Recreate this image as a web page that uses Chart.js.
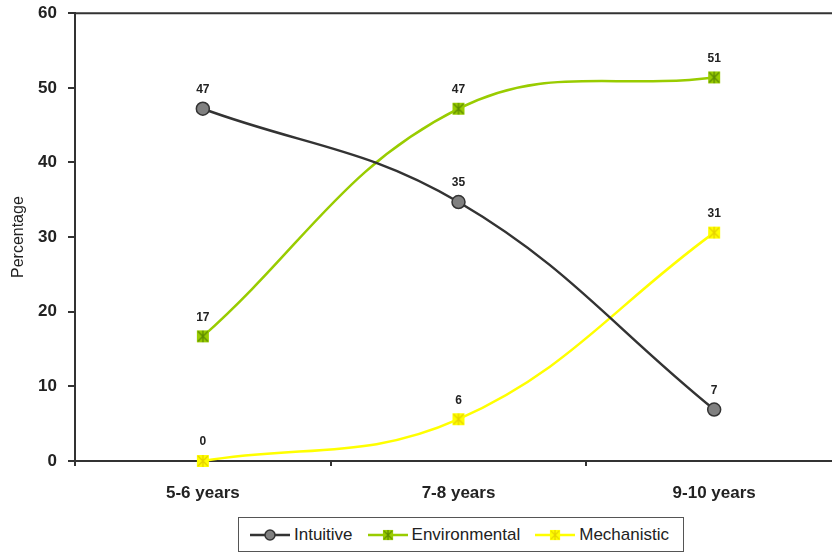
<!DOCTYPE html>
<html>
<head>
<meta charset="utf-8">
<script src="https://cdn.jsdelivr.net/npm/chart.js@4"></script>
<style>
    body { margin: 0; background: #fff; overflow: hidden; width: 832px; height: 555px; position: relative; font-family: "Liberation Sans", Arial, sans-serif; }
    #stockChart { position: absolute; left: 0; top: -8px; }
    .legend { position: absolute; left: 238px; top: 517px; width: 446px; height: 35px; border: 1.5px solid #555; display: flex; align-items: center; justify-content: center; gap: 14px; font-size: 17px; color: #222; box-sizing: border-box; padding-right: 4px; }
    .legend span { display: flex; align-items: center; gap: 3px; }
</style>
</head>
<body>
<canvas id="stockChart" width="850" height="518"></canvas>
<div class="legend" id="legend"></div>
<script>
const ageGroups = ["5-6 years", "7-8 years", "9-10 years"];
const intuitiveData = [47.2, 34.7, 6.9];
const environmentalData = [16.7, 47.2, 51.4];
const mechanisticData = [0, 5.6, 30.6];
const yTicks = [0, 10, 20, 30, 40, 50, 60];

// asterisk-in-square marker like the old Excel one
function starBox(fill, stroke, size) {
    const c = document.createElement("canvas");
    c.width = size; c.height = size;
    const g = c.getContext("2d");
    g.fillStyle = fill;
    g.fillRect(1, 1, size - 2, size - 2);
    g.strokeStyle = stroke;
    g.lineWidth = 1.3;
    g.beginPath();
    g.moveTo(2, 2); g.lineTo(size - 2, size - 2);
    g.moveTo(size - 2, 2); g.lineTo(2, size - 2);
    g.moveTo(size / 2, 1); g.lineTo(size / 2, size - 1);
    g.stroke();
    return c;
}

const envMarker = starBox("#99cc00", "#5c8a00", 14);
const mechMarker = starBox("#ffff00", "#e6d200", 14);

const valueLabels = {
    id: "valueLabels",
    afterDatasetsDraw(chart) {
        const ctx = chart.ctx;
        ctx.save();
        ctx.font = "bold 12px 'Liberation Sans', Arial";
        ctx.fillStyle = "#222";
        ctx.textAlign = "center";
        ctx.textBaseline = "middle";
        chart.data.datasets.forEach((ds, i) => {
            chart.getDatasetMeta(i).data.forEach((pt, j) => {
                ctx.fillText(Math.round(ds.data[j]), pt.x, pt.y - 19);
            });
        });
        ctx.restore();
    }
};

const topBorder = {
    id: "topBorder",
    beforeDatasetsDraw(chart) {
        const a = chart.chartArea;
        const ctx = chart.ctx;
        ctx.save();
        ctx.strokeStyle = "#333";
        ctx.lineWidth = 2;
        ctx.beginPath();
        ctx.moveTo(a.left, a.top);
        ctx.lineTo(a.right, a.top);
        ctx.stroke();
        ctx.restore();
    }
};

const ctx = document.getElementById("stockChart").getContext("2d");
const myChart = new Chart(ctx, {
    type: "line",
    data: {
        labels: ageGroups,
        datasets: [
            {
                label: "Intuitive",
                data: intuitiveData,
                borderColor: "#333333",
                borderWidth: 2.5,
                pointStyle: "circle",
                pointRadius: 6.5,
                pointBackgroundColor: "#808080",
                pointBorderColor: "#333333",
                pointBorderWidth: 1.5,
                tension: 0.4,
                clip: false
            },
            {
                label: "Environmental",
                data: environmentalData,
                borderColor: "#99cc00",
                borderWidth: 2.5,
                pointStyle: envMarker,
                tension: 0.4,
                clip: false
            },
            {
                label: "Mechanistic",
                data: mechanisticData,
                borderColor: "#ffff00",
                borderWidth: 2.5,
                pointStyle: mechMarker,
                tension: 0.4,
                clip: false
            }
        ]
    },
    options: {
        responsive: false,
        animation: false,
        layout: { padding: { top: 2, right: 8, left: 0, bottom: 0 } },
        scales: {
            x: {
                offset: true,
                grid: { offset: true, drawOnChartArea: false, tickLength: 5, color: "#333", lineWidth: 2 },
                border: { color: "#333", width: 2 },
                ticks: { color: "#222", padding: 17, font: { size: 17, weight: "bold", family: "'Liberation Sans', Arial" } },
                afterFit: (scale) => { scale.height = 49; }
            },
            y: {
                min: 0,
                max: 60,
                afterBuildTicks: (scale) => { scale.ticks = yTicks.map(v => ({ value: v })); },
                grid: { drawOnChartArea: false, tickLength: 7, color: "#333", lineWidth: 2 },
                border: { color: "#333", width: 2 },
                ticks: { color: "#222", padding: 11, font: { size: 17, weight: "bold", family: "'Liberation Sans', Arial" } },
                title: {
                    display: true,
                    text: "Percentage",
                    color: "#222",
                    padding: { top: 9, bottom: 0 },
                    font: { size: 16, family: "'Liberation Sans', Arial" }
                },
                afterFit: (scale) => { scale.width = 75; }
            }
        },
        plugins: {
            legend: { display: false },
            tooltip: { enabled: false }
        }
    },
    plugins: [topBorder, valueLabels]
});

// legend with line + marker samples
const legend = document.getElementById("legend");
myChart.data.datasets.forEach((ds) => {
    const item = document.createElement("span");
    const sample = document.createElement("canvas");
    sample.width = 42; sample.height = 16;
    const g = sample.getContext("2d");
    g.strokeStyle = ds.borderColor;
    g.lineWidth = 2.5;
    g.beginPath(); g.moveTo(1, 8); g.lineTo(41, 8); g.stroke();
    if (ds.pointStyle === "circle") {
        g.fillStyle = ds.pointBackgroundColor;
        g.strokeStyle = ds.pointBorderColor;
        g.lineWidth = 1.5;
        g.beginPath(); g.arc(21, 8, 5, 0, Math.PI * 2); g.fill(); g.stroke();
    } else {
        g.drawImage(ds.pointStyle, 15, 2, 12, 12);
    }
    const txt = document.createElement("span");
    txt.textContent = ds.label;
    item.appendChild(sample);
    item.appendChild(txt);
    legend.appendChild(item);
});
</script>
</body>
</html>
